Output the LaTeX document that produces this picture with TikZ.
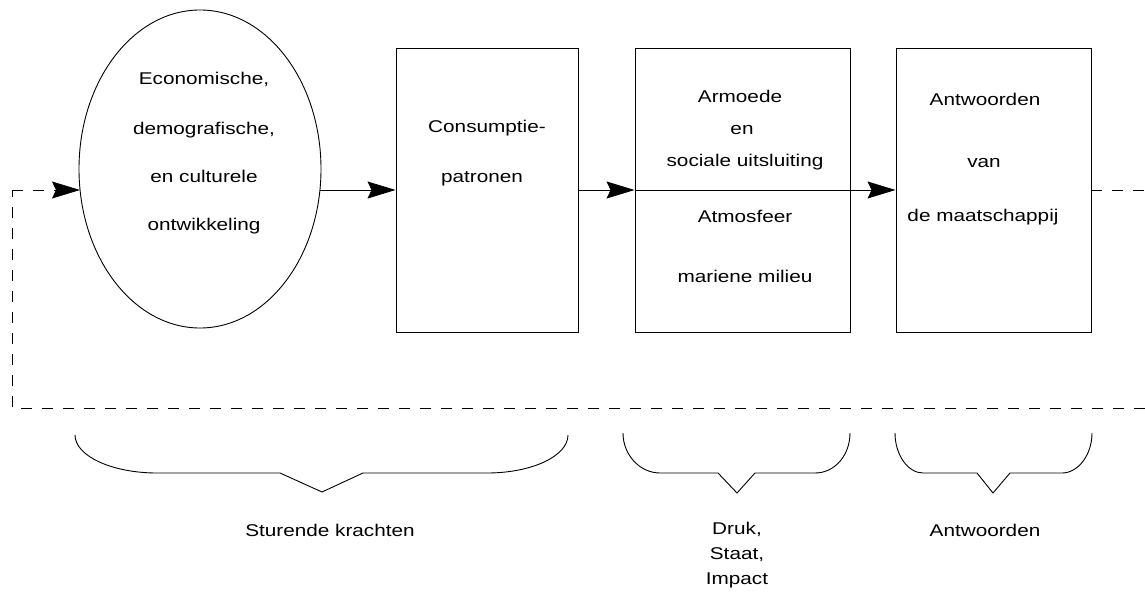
\documentclass[tikz,border=0pt]{standalone}
\usepackage{fontspec}
\setmainfont[FakeStretch=1.22]{Liberation Sans}
\usetikzlibrary{arrows.meta,shapes.geometric}
\begin{document}
\begin{tikzpicture}[x=1pt,y=-1pt,line width=0.9pt,
  lbl/.style={font=\fontsize{17}{20}\selectfont,text height=12.5pt,text depth=3.5pt,inner sep=0pt},
  blk/.style={draw,rectangle,inner sep=0pt,minimum height=284pt},
  flow/.style={-{Stealth[length=28pt,width=17pt,inset=4pt]}},
  loopline/.style={dash pattern=on 11pt off 10pt},
  bracepath/.style={line width=0.9pt,line join=miter}]
\useasboundingbox (0,0) rectangle (1145,602);

% stages of the chain
\node[draw,ellipse,minimum width=242pt,minimum height=318pt,inner sep=0pt] (drv) at (200,169) {};
\node[blk,minimum width=182pt] (cons) at (487,190) {};
\node[blk,minimum width=215pt] (psi) at (742.5,190) {};
\node[blk,minimum width=195pt] (resp) at (993.5,190) {};

% texts inside the stages
\node[lbl] (d1) at (204,80) {Economische,};
\node[lbl] (d2) at (204,130) {demografische,};
\node[lbl] (d3) at (204,178) {en culturele};
\node[lbl] (d4) at (204,226) {ontwikkeling};

\node[lbl] (c1) at (487,128) {Consumptie-};
\node[lbl] (c2) at (482,178) {patronen};

\node[lbl] (p1) at (740,98) {Armoede};
\node[lbl] (p2) at (742,130) {en};
\node[lbl] (p3) at (745,162) {sociale uitsluiting};
\node[lbl] (p4) at (745,218) {Atmosfeer};
\node[lbl] (p5) at (745,278) {mariene milieu};

\node[lbl] (r1) at (985,101) {Antwoorden};
\node[lbl] (r2) at (984,163) {van};
\node[lbl] (r3) at (983,217) {de maatschappij};

% main flow
\coordinate (ee) at (320,190);
\coordinate (ew) at (80,190);
\draw[flow] (ee) -- (cons.west);
\draw[flow] (cons.east) -- (psi.west);
\draw (psi.west) -- (psi.east);
\draw[flow] (psi.east) -- (resp.west);

% feedback loop
\coordinate (lc) at (12,190);
\coordinate (ll) at (12,408);
\coordinate (lr) at (1145,408);
\coordinate (rr) at (1145,190);
\draw[loopline] (lr) -- (ll) -- (lc);
\draw[loopline,flow] (lc) -- (ew);
\draw[loopline] (resp.east) -- (rr);

% braces
\draw[bracepath] (75,435) .. controls (75,456) and (112,473) .. (157,473)
  -- (280,473) -- (322,492) -- (363,473) -- (487,473)
  .. controls (532,473) and (568,456) .. (568,435);
\draw[bracepath] (623,433) .. controls (623,455) and (640,473) .. (660,473)
  -- (718,473) -- (737,493) -- (755,473) -- (815,473)
  .. controls (835,473) and (850,455) .. (850,433);
\draw[bracepath] (895,433) .. controls (895,455) and (908,473) .. (923,473)
  -- (977,473) -- (993,493) -- (1010,473) -- (1062,473)
  .. controls (1078,473) and (1092,455) .. (1092,433);

% captions
\node[lbl] (k1) at (330,532) {Sturende krachten};
\node[lbl] (k2a) at (737,530) {Druk,};
\node[lbl] (k2b) at (737,555) {Staat,};
\node[lbl] (k2c) at (737,580) {Impact};
\node[lbl] (k3) at (985,532) {Antwoorden};
\end{tikzpicture}
\end{document}
